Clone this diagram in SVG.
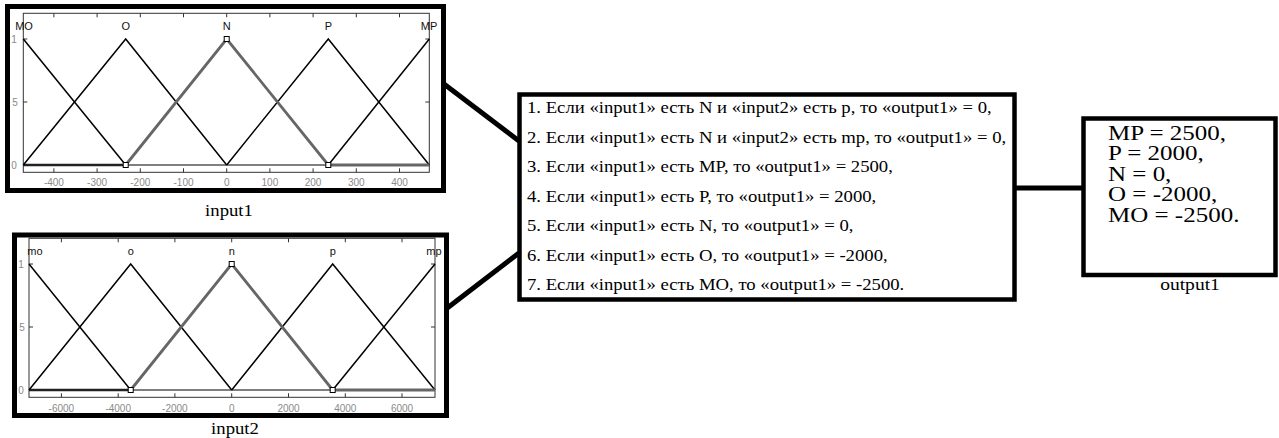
<svg xmlns="http://www.w3.org/2000/svg" width="1279" height="438" viewBox="0 0 1279 438">
<style>
.frame{fill:none;stroke:#000;stroke-width:5}
.box{fill:#fff;stroke:#000;stroke-width:4.5}
.axes{fill:none;stroke:#333;stroke-width:1}
.tick{stroke:#333;stroke-width:1}
.mf{fill:none;stroke:#000;stroke-width:1.5}
.sel{fill:none;stroke:#666;stroke-width:2.8}
.mark{fill:#fff;stroke:#000;stroke-width:1}
.mfl{font-family:"Liberation Sans",Arial,sans-serif;font-size:11px;fill:#111;text-anchor:middle}
.tl{font-family:"Liberation Sans",Arial,sans-serif;font-size:10px;fill:#8a8a8a;text-anchor:middle}
.ser{font-family:"Liberation Serif","Times New Roman",serif;fill:#000}
.conn{stroke:#000;stroke-width:5;fill:none}
</style>
<rect width="1279" height="438" fill="#fff"/>

<g id="connectors">
<line class="conn" x1="444" y1="84" x2="519" y2="141"/>
<line class="conn" x1="446" y1="309" x2="519" y2="253"/>
<line class="conn" x1="1016" y1="188" x2="1083" y2="188"/>
</g>

<g id="input1">
<rect x="7.5" y="6.5" width="436" height="184" fill="#fff"/>
<rect class="axes" x="23.3" y="13.3" width="406" height="159"/>
<g class="tick">
<path d="M53.9 13.3v4M97.1 13.3v4M140.3 13.3v4M183.5 13.3v4M226.7 13.3v4M269.9 13.3v4M313.1 13.3v4M356.3 13.3v4M399.5 13.3v4"/>
<path d="M53.9 172.3v-4M97.1 172.3v-4M140.3 172.3v-4M183.5 172.3v-4M226.7 172.3v-4M269.9 172.3v-4M313.1 172.3v-4M356.3 172.3v-4M399.5 172.3v-4"/>
<path d="M23.3 102h4M429.3 102h-4M23.3 39h4M429.3 39h-4"/>
</g>
<line x1="23.3" y1="165" x2="429.3" y2="165" stroke="#000" stroke-width="1"/>
<line x1="23.3" y1="165" x2="125.7" y2="165" stroke="#222" stroke-width="2.5"/>
<polyline class="mf" points="23.3,39 125.7,165"/>
<polyline class="mf" points="23.3,165 125.7,39 226.7,165"/>
<polyline class="mf" points="226.7,165 328.3,39 429.3,165"/>
<polyline class="mf" points="328.3,165 429.3,39"/>
<polyline class="sel" points="125.7,165 226.7,39 328.3,165 429.3,165"/>
<rect class="mark" x="224.2" y="36.5" width="5" height="5"/>
<rect class="mark" x="123.2" y="162.5" width="5" height="5"/>
<rect class="mark" x="325.8" y="162.5" width="5" height="5"/>
<text class="mfl" x="24" y="30">MO</text>
<text class="mfl" x="125.7" y="30">O</text>
<text class="mfl" x="226.7" y="30">N</text>
<text class="mfl" x="328.3" y="30">P</text>
<text class="mfl" x="429" y="30">MP</text>
<text class="tl" x="14" y="43">1</text>
<text class="tl" x="15" y="106">5</text>
<text class="tl" x="14" y="169">0</text>
<text class="tl" x="53.9" y="186">-400</text>
<text class="tl" x="97.1" y="186">-300</text>
<text class="tl" x="140.3" y="186">-200</text>
<text class="tl" x="183.5" y="186">-100</text>
<text class="tl" x="226.7" y="186">0</text>
<text class="tl" x="269.9" y="186">100</text>
<text class="tl" x="313.1" y="186">200</text>
<text class="tl" x="356.3" y="186">300</text>
<text class="tl" x="399.5" y="186">400</text>
<rect class="frame" x="7.5" y="6.5" width="436" height="184"/>
<text class="ser" font-size="17" text-anchor="middle" transform="translate(229,216) scale(1.1,1)">input1</text>
</g>

<g id="input2">
<rect x="14.5" y="235" width="432" height="180.5" fill="#fff"/>
<rect class="axes" x="29" y="238.3" width="406" height="159"/>
<g class="tick">
<path d="M61.4 238.3v4M118.2 238.3v4M174.9 238.3v4M231.7 238.3v4M288.5 238.3v4M345.3 238.3v4M402 238.3v4"/>
<path d="M61.4 397.3v-4M118.2 397.3v-4M174.9 397.3v-4M231.7 397.3v-4M288.5 397.3v-4M345.3 397.3v-4M402 397.3v-4"/>
<path d="M29 327h4M435 327h-4M29 264h4M435 264h-4"/>
</g>
<line x1="29" y1="390" x2="435" y2="390" stroke="#000" stroke-width="1"/>
<line x1="29" y1="390" x2="130.7" y2="390" stroke="#222" stroke-width="2.5"/>
<polyline class="mf" points="29,264 130.7,390"/>
<polyline class="mf" points="29,390 130.7,264 231.7,390"/>
<polyline class="mf" points="231.7,390 332.7,264 435,390"/>
<polyline class="mf" points="332.7,390 435,264"/>
<polyline class="sel" points="130.7,390 231.7,264 332.7,390 435,390"/>
<rect class="mark" x="229.2" y="261.5" width="5" height="5"/>
<rect class="mark" x="128.2" y="387.5" width="5" height="5"/>
<rect class="mark" x="330.2" y="387.5" width="5" height="5"/>
<text class="mfl" x="35" y="255">mo</text>
<text class="mfl" x="130.7" y="255">o</text>
<text class="mfl" x="231.7" y="255">n</text>
<text class="mfl" x="332.7" y="255">p</text>
<text class="mfl" x="434" y="255">mp</text>
<text class="tl" x="21" y="268">1</text>
<text class="tl" x="22" y="331">5</text>
<text class="tl" x="21" y="394">0</text>
<text class="tl" x="61.4" y="412">-6000</text>
<text class="tl" x="118.2" y="412">-4000</text>
<text class="tl" x="174.9" y="412">-2000</text>
<text class="tl" x="231.7" y="412">0</text>
<text class="tl" x="288.5" y="412">2000</text>
<text class="tl" x="345.3" y="412">4000</text>
<text class="tl" x="402" y="412">6000</text>
<rect class="frame" x="14.5" y="235" width="432" height="180.5"/>
<text class="ser" font-size="17" text-anchor="middle" transform="translate(235,434) scale(1.1,1)">input2</text>
</g>

<g id="rules">
<rect class="box" x="519.5" y="94.5" width="495" height="205"/>
<g class="ser" font-size="17" transform="translate(527,0) scale(1.1,1)">
<text x="0" y="113.5">1. Если «input1» есть N и «input2» есть p, то «output1» = 0,</text>
<text x="0" y="143">2. Если «input1» есть N и «input2» есть mp, то «output1» = 0,</text>
<text x="0" y="172.5">3. Если «input1» есть MP, то «output1» = 2500,</text>
<text x="0" y="202">4. Если «input1» есть P, то «output1» = 2000,</text>
<text x="0" y="231.5">5. Если «input1» есть N, то «output1» = 0,</text>
<text x="0" y="261">6. Если «input1» есть O, то «output1» = -2000,</text>
<text x="0" y="290.5">7. Если «input1» есть MO, то «output1» = -2500.</text>
</g>
</g>

<g id="output1">
<rect class="box" x="1083.5" y="118.5" width="192" height="156.5"/>
<g class="ser" font-size="21" transform="translate(1108,0) scale(1.19,1)">
<text x="0" y="140">MP = 2500,</text>
<text x="0" y="160.5">P = 2000,</text>
<text x="0" y="181">N = 0,</text>
<text x="0" y="201.5">O = -2000,</text>
<text x="0" y="222">MO = -2500.</text>
</g>
<text class="ser" font-size="17" text-anchor="middle" transform="translate(1190,290) scale(1.15,1)">output1</text>
</g>
</svg>
